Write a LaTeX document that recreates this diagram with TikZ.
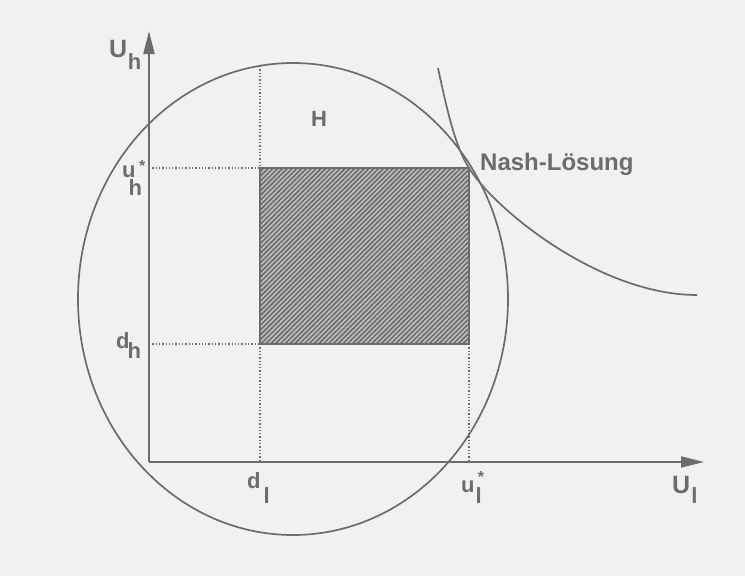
\documentclass[tikz,border=0pt]{standalone}
\usepackage{fontspec}
\setmainfont{Liberation Sans}
\usetikzlibrary{arrows.meta,patterns.meta}
\definecolor{bg}{HTML}{F1F1F1}
\definecolor{ink}{HTML}{6C6C6C}
\definecolor{hatchfill}{HTML}{BDBDBD}
\definecolor{hatchline}{HTML}{6A6A6A}
\tikzset{
  curve/.style={draw=ink,line width=1.7pt},
  axis/.style={draw=ink,line width=1.9pt,-{Triangle[length=23pt,width=11pt]}},
  guide/.style={draw=ink,line width=1.3pt,dotted},
  lbl/.style={text=ink,inner sep=0pt,font=\fontsize{22}{24}\selectfont\bfseries},
  biglbl/.style={lbl,font=\fontsize{25}{27}\selectfont\bfseries},
  hatched/.style={fill=hatchfill,pattern={Lines[angle=45,distance=3.4pt,line width=1.5pt]},pattern color=hatchline}
}
\begin{document}
\begin{tikzpicture}[x=1pt,y=-1pt]
\fill[bg] (0,0) rectangle (745,576);
\useasboundingbox (0,0) rectangle (745,576);
% key points
\coordinate (O) at (149,462);
\coordinate (Ytip) at (149,31);
\coordinate (Xtip) at (704,462);
\coordinate (D) at (260,344);
\coordinate (N) at (469,168);
\coordinate (DL) at (260,462);
\coordinate (UL) at (469,462);
\coordinate (DH) at (149,344);
\coordinate (UH) at (149,168);
\coordinate (Etop) at (260,66);
\coordinate (Hs) at (438,68);
\coordinate (He) at (697,295);
% hatched rectangle
\fill[hatchfill] (D) rectangle (N);
\fill[hatched] (D) rectangle (N);
\draw[curve] (D) rectangle (N);
% guide lines
\draw[guide] (Etop) -- (D |- N);
\draw[guide] (D) -- (DL);
\draw[guide] (N |- D) -- (UL);
\draw[guide] (UH) -- (D |- N);
\draw[guide] (DH) -- (D);
% ellipse H
\draw[curve] (293,299) ellipse [x radius=215, y radius=236];
% hyperbola
\draw[curve] (Hs) .. controls (448,115) and (456,148) .. (N)
  .. controls (495,210) and (600,295) .. (He);
% axes
\draw[axis] (O) -- (Ytip);
\draw[axis] (O) -- (Xtip);
% labels
\node[biglbl,anchor=base west] (lUh) at (109,57) {U\kern0.5pt\raisebox{-12pt}{\fontsize{22}{24}\selectfont h}};
\node[biglbl,anchor=base west] (lUl) at (672,493) {U\kern1pt\raisebox{-10pt}{\fontsize{22}{24}\selectfont l}};
\node[lbl,anchor=base west] (luh) at (122,177) {u\kern-7pt\raisebox{-18pt}{h}\kern-3pt\raisebox{6pt}{\fontsize{16}{16}\selectfont *}};
\node[lbl,anchor=base west] (ldh) at (116,348) {d\kern-2pt\raisebox{-10pt}{h}};
\node[lbl,anchor=base west] (ldl) at (247,488) {d\kern3pt\raisebox{-15pt}{l}};
\node[lbl,anchor=base west] (lul) at (461,492) {u\kern1pt\raisebox{-11pt}{l}\kern-4pt\raisebox{10pt}{\fontsize{16}{16}\selectfont *}};
\node[lbl] (lH) at (319,119) {H};
\node[lbl,anchor=base west,font=\fontsize{24}{26}\selectfont\bfseries] (lN) at (480,170) {Nash-Lösung};
\end{tikzpicture}
\end{document}
